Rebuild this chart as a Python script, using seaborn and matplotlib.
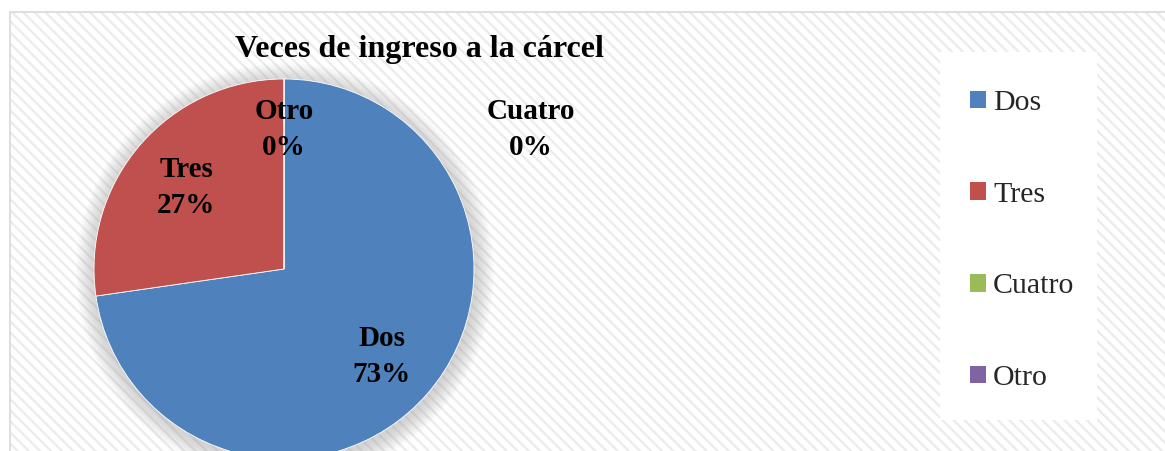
import matplotlib
matplotlib.use("Agg")
import matplotlib.pyplot as plt
import matplotlib.patches as mpatches
import seaborn as sns
import numpy as np

sns.set_theme(style="white")
plt.rcParams["font.family"] = ["Liberation Serif", "DejaVu Serif"]
plt.rcParams["hatch.linewidth"] = 1.6

# datos: veces de ingreso a la carcel
categorias = ["Dos", "Tres", "Cuatro", "Otro"]
frecuencias = [8, 3, 0, 0]
colores = ["#4F81BD", "#C0504D", "#9BBB59", "#8064A2"]
titulo = "Veces de ingreso a la cárcel"

W, H = 1165, 451
fig = plt.figure(figsize=(W / 100, H / 100), dpi=100)
ax = fig.add_axes([0, 0, 1, 1])

# chart area: diagonal striped background + thin border
ax.add_patch(mpatches.Rectangle((10, -20), W, H - 12 + 20, facecolor="white",
                                edgecolor="#ebebeb", lw=0, hatch="\\\\\\", zorder=0))
ax.add_patch(mpatches.Rectangle((10, -20), W, H - 12 + 20, facecolor="none",
                                edgecolor="#d9d9d9", lw=1.2, zorder=1))

cx, cy, r = 284, 182, 190

# soft shadow around the pie
for i in range(16, 0, -1):
    ax.add_patch(mpatches.Circle((cx + 1, cy - 3), r + i * 1.2, facecolor="#a0a0a0",
                                 edgecolor="none", alpha=0.03, zorder=2))

total = sum(frecuencias)
wedges, _ = ax.pie(frecuencias, colors=colores, startangle=90, counterclock=False,
                   center=(cx, cy), radius=r, frame=True,
                   wedgeprops=dict(linewidth=0.6, edgecolor="white"))
for w in wedges:
    w.set_zorder(3)
ax.set_xlim(0, W)
ax.set_ylim(0, H)
ax.set_aspect("equal")
ax.axis("off")

# data labels (category + percentage)
pct = [f / total * 100 for f in frecuencias]
ang = 90.0
lbl_style = dict(ha="center", va="center", fontsize=21, fontweight="bold",
                 color="black", linespacing=1.42, zorder=5)
for cat, p in zip(categorias, pct):
    span = p / 100 * 360
    mid = np.deg2rad(ang - span / 2)
    if p > 0:
        dist = 0.68 * r
    elif cat == "Otro":
        mid = np.deg2rad(90)
        dist = 0.75 * r
    else:
        mid = np.deg2rad(30)
        dist = 1.5 * r
    ax.text(cx + dist * np.cos(mid), cy + dist * np.sin(mid) - 3,
            f"{cat}\n{p:.0f}%", **lbl_style)
    ang -= span

ax.text(419, H - 50, titulo, ha="center", va="center", fontsize=23,
        fontweight="bold", color="black", zorder=5)

# legend box
ax.add_patch(mpatches.Rectangle((940, H - 420), 157, 368, facecolor="white",
                                edgecolor="none", zorder=4))
handles = [mpatches.Patch(facecolor=c, edgecolor="none", label=l)
           for c, l in zip(colores, categorias)]
leg = ax.legend(handles=handles, loc="upper left", bbox_to_anchor=(970 / W, 1 - 90 / H),
                frameon=False, fontsize=21.5, handlelength=0.54, handleheight=0.54,
                handletextpad=0.23, labelspacing=2.2, borderpad=0, borderaxespad=0)
leg.set_zorder(6)

fig.savefig("out.png", dpi=100)
